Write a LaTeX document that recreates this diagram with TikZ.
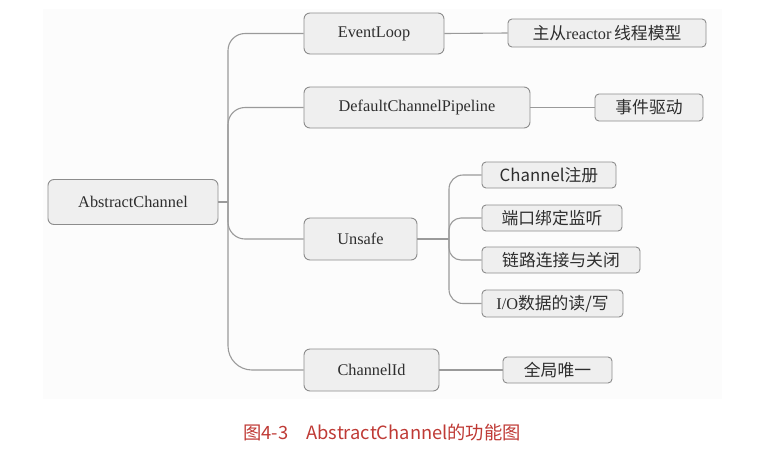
\documentclass[tikz,border=0pt]{standalone}
\usepackage{fontspec}
\setmainfont{Liberation Serif}
\newfontfamily\cjk{Noto Sans CJK SC}
\newcommand\zh[1]{{\cjk\fontsize{16.8}{18}\selectfont #1}}
\definecolor{panel}{HTML}{FCFCFC}
\definecolor{boxfill}{HTML}{EFEFEF}
\definecolor{boxline}{HTML}{8C8C8C}
\definecolor{conline}{HTML}{9A9A9A}
\definecolor{txt}{HTML}{2E2E2E}
\definecolor{capred}{HTML}{BF3A35}
\begin{document}
\begin{tikzpicture}[x=1pt,y=-1pt,
  box/.style={draw=boxline,fill=boxfill,line width=0.9pt,rounded corners=6pt,
    inner sep=0pt,text=txt,font=\fontsize{16.3}{18}\selectfont,anchor=center},
  leaf/.style={box,rounded corners=4pt},
  conn/.style={draw=conline,line width=1.1pt}]
\useasboundingbox (0,0) rectangle (757,464);
\fill[white] (0,0) rectangle (757,464);
\fill[panel] (43,9) rectangle (722,399);

% main nodes
\node[box,minimum width=170pt,minimum height=45pt] (A) at (133,202) {AbstractChannel};
\node[box,minimum width=140pt,minimum height=41pt] (E) at (374,33.5) {EventLoop};
\node[box,minimum width=226pt,minimum height=41pt] (D) at (417,107.5) {DefaultChannelPipeline};
\node[box,minimum width=113pt,minimum height=42pt] (U) at (360.5,239) {Unsafe};
\node[box,minimum width=135pt,minimum height=42pt] (I) at (371.5,370) {ChannelId};

% leaves
\node[leaf,minimum width=198pt,minimum height=28pt] (R) at (607,33) {\zh{主从}reactor\,\zh{线程模型}};
\node[leaf,minimum width=108pt,minimum height=27pt] (Q) at (649,107.5) {\zh{事件驱动}};
\node[leaf,minimum width=134pt,minimum height=26pt] (U1) at (549,175) {\zh{Channel注册}};
\node[leaf,minimum width=140pt,minimum height=26pt] (U2) at (552,218) {\zh{端口绑定监听}};
\node[leaf,minimum width=158pt,minimum height=26pt] (U3) at (561,260) {\zh{链路连接与关闭}};
\node[leaf,minimum width=141pt,minimum height=27pt] (U4) at (552.5,303.5) {I/O\zh{数据的读/写}};
\node[leaf,minimum width=109pt,minimum height=26pt] (G) at (557.5,370) {\zh{全局唯一}};

% trunk
\coordinate (t) at (228,202);
\coordinate (u) at (449,239);
\draw[conn] (A.east) -- (t);
\draw[conn,rounded corners=17pt] (t) |- (E.west);
\draw[conn,rounded corners=17pt] (t) |- (D.west);
\draw[conn,rounded corners=17pt] (t) |- (U.west);
\draw[conn,rounded corners=24pt] (t) |- (I.west);

% second level
\draw[conn] (E.east) -- (R.west);
\draw[conn] (D.east) -- (Q.west);
\draw[conn] (I.east) -- (G.west);
\draw[conn] (U.east) -- (u);
\draw[conn,rounded corners=14pt] (u) |- (U1.west);
\draw[conn,rounded corners=12pt] (u) |- (U2.west);
\draw[conn,rounded corners=12pt] (u) |- (U3.west);
\draw[conn,rounded corners=14pt] (u) |- (U4.west);

% caption
\node[anchor=west,inner sep=0pt,text=capred,font=\cjk\fontsize{18.3}{20}\selectfont] (cap) at (243,433) {图4-3　AbstractChannel的功能图};
\end{tikzpicture}
\end{document}
